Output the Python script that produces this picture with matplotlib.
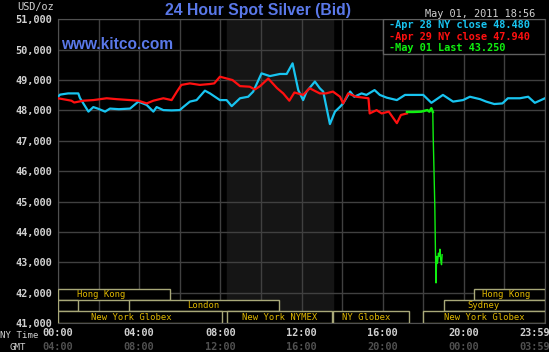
import matplotlib
matplotlib.use("Agg")
import matplotlib.pyplot as plt
from matplotlib.patches import Rectangle

# ---------------- data ----------------
apr28_hours = [0.0, 0.1, 0.5, 1.0, 1.08, 1.5, 1.74, 2.0, 2.32, 2.56, 3.0, 3.55, 3.96, 4.37, 4.7, 4.86,
               5.19, 5.6, 6.0, 6.17, 6.5, 6.83, 7.24, 7.49, 7.98, 8.31, 8.56, 8.97, 9.37, 9.62, 10.03,
               10.44, 10.94, 11.27, 11.56, 11.84, 12.08, 12.25, 12.66, 12.9, 13.07, 13.4, 13.65, 13.9,
               14.05, 14.4, 14.6, 14.96, 15.2, 15.6, 15.86, 16.2, 16.7, 17.1, 17.5, 18.0, 18.4, 18.97,
               19.47, 19.96, 20.3, 20.8, 21.1, 21.5, 21.9, 22.17, 22.76, 23.17, 23.5, 24.0]
apr28_values = [48450, 48520, 48560, 48560, 48410, 47960, 48110, 48050, 47960, 48060, 48040, 48060,
                48290, 48180, 47960, 48110, 48010, 48000, 48010, 48110, 48290, 48340, 48650, 48560,
                48340, 48340, 48140, 48400, 48450, 48620, 49220, 49130, 49200, 49200, 49550, 48670,
                48340, 48620, 48950, 48730, 48620, 47550, 47960, 48120, 48230, 48620, 48450, 48560,
                48510, 48670, 48510, 48420, 48340, 48510, 48510, 48510, 48250, 48510, 48290, 48340,
                48450, 48370, 48290, 48210, 48230, 48400, 48400, 48450, 48250, 48400]

apr29_hours = [0.0, 0.66, 0.8, 1.25, 1.74, 2.4, 2.9, 3.55, 3.96, 4.37, 4.7, 5.19, 5.6, 5.86, 6.08,
               6.5, 6.99, 7.49, 7.7, 7.98, 8.6, 8.97, 9.45, 9.7, 9.96, 10.36, 10.8, 11.1, 11.4, 11.65,
               12.08, 12.4, 12.9, 13.2, 13.55, 13.9, 14.05, 14.3, 14.7, 15.3, 15.36, 15.7, 15.95, 16.3,
               16.7, 16.9, 17.2]
apr29_values = [48400, 48320, 48260, 48320, 48340, 48400, 48370, 48340, 48320, 48230, 48320, 48400,
                48340, 48620, 48840, 48890, 48840, 48870, 48890, 49110, 49000, 48800, 48780, 48690,
                48800, 49050, 48730, 48560, 48320, 48590, 48510, 48730, 48560, 48560, 48620, 48450,
                48230, 48560, 48450, 48400, 47900, 48010, 47900, 47960, 47580, 47850, 47900]

may01_hours = [17.2, 17.5, 17.9, 18.2, 18.3, 18.4, 18.47, 18.49, 18.52, 18.57, 18.6, 18.62, 18.63,
               18.66, 18.7, 18.75, 18.8, 18.82, 18.86, 18.9, 18.93]
may01_values = [47950, 47950, 47960, 48010, 47960, 48070, 47950, 47140, 46310, 44830, 43400, 42750,
                42320, 43190, 42970, 43300, 43200, 43430, 43080, 42920, 43250]

ny_ticks = ["00:00", "04:00", "08:00", "12:00", "16:00", "20:00", "23:59"]
gmt_ticks = ["04:00", "08:00", "12:00", "16:00", "20:00", "00:00", "03:59"]
tick_hours = [0, 4, 8, 12, 16, 20, 24]
y_ticks = [41000, 42000, 43000, 44000, 45000, 46000, 47000, 48000, 49000, 50000, 51000]

# sessions
sessions_start = [0.0, 20.5, 0.0, 3.5, 19.0, 0.0, 8.33, 13.55, 18.0]
sessions_end = [5.5, 24.0, 1.0, 10.9, 24.0, 8.07, 13.5, 17.3, 24.0]
sessions_row = [2, 2, 1, 1, 1, 0, 0, 0, 0]
sessions_label = ["Hong Kong", "Hong Kong", "", "London", "Sydney", "New York Globex",
                  "New York NYMEX", "NY Globex", "New York Globex"]
sessions_label_x = [2.12, 22.07, 0.5, 7.14, 20.96, 3.6, 10.9, 15.17, 20.99]

legend_labels = ["Apr 28 NY close 48.480", "Apr 29 NY close 47.940", "May 01 Last 43.250"]

# ---------------- style ----------------
CYAN = "#18c4f0"
RED = "#ff1010"
GREEN = "#10f010"
BLUE = "#5a78e8"
GRID = "#404040"
TXT = "#d0d0d0"
GOLD = "#e0b800"
BOXE = "#a8a878"
MONO = "DejaVu Sans Mono"

W, H = 549, 352
fig = plt.figure(figsize=(W / 100, H / 100), dpi=100, facecolor="black")
x0, x1, ytop, ybot = 58, 545, 19.3, 323
ax = fig.add_axes([x0 / W, 1 - ybot / H, (x1 - x0) / W, (ybot - ytop) / H], facecolor="black")
ax.set_xlim(0, 24)
ax.set_ylim(41000, 51000)

ax.axvspan(8.33, 13.55, color="#151515", zorder=0)

ax.set_xticks(range(0, 25, 2))
ax.set_yticks(y_ticks)
ax.grid(True, color=GRID, linewidth=1.0, zorder=1)
ax.tick_params(length=0, labelbottom=False)
ax.set_yticklabels([f"{v:,}" for v in y_ticks], fontfamily=MONO, fontsize=7.4, color=TXT,
                   fontweight="bold")
ax.tick_params(axis="y", pad=4)
for s in ax.spines.values():
    s.set_color("#505050")

row_edges = [41000, 41390, 41760, 42130]
for st, en, rw, lab, lx in zip(sessions_start, sessions_end, sessions_row, sessions_label, sessions_label_x):
    r = Rectangle((st, row_edges[rw]), en - st, row_edges[rw + 1] - row_edges[rw],
                  facecolor="black", edgecolor=BOXE, linewidth=1.0, zorder=3)
    ax.add_patch(r)
    if lab:
        ax.text(lx, (row_edges[rw] + row_edges[rw + 1]) / 2, lab, ha="center", va="center",
                fontfamily=MONO, fontsize=6.4, color=GOLD, zorder=4)

ax.plot(apr28_hours, apr28_values, color=CYAN, linewidth=1.6, zorder=5)
ax.plot(apr29_hours, apr29_values, color=RED, linewidth=1.6, zorder=5)
ax.plot(may01_hours[:7], may01_values[:7], color=GREEN, linewidth=1.8, zorder=6)
ax.plot(may01_hours[6:], may01_values[6:], color=GREEN, linewidth=1.0, zorder=6)

lb = Rectangle(((383 - x0) / (x1 - x0), 1 - (54 - ytop) / (ybot - ytop)),
               (x1 - 383) / (x1 - x0), (54 - ytop) / (ybot - ytop),
               transform=ax.transAxes, facecolor="black", edgecolor="#606060",
               linewidth=1.0, zorder=7)
ax.add_patch(lb)
for i, (lab, c) in enumerate(zip(legend_labels, [CYAN, RED, GREEN])):
    fig.text(389 / W, 1 - (25.5 + i * 11.3) / H, "-" + lab, fontfamily=MONO, fontsize=7.4,
             fontweight="bold", color=c, va="center", ha="left", zorder=8)

fig.text(258 / W, 1 - 10 / H, "24 Hour Spot Silver (Bid)", fontfamily="Liberation Sans",
         fontweight="bold", fontsize=11.3, color=BLUE, ha="center", va="center")
fig.text(117 / W, 1 - 44.5 / H, "www.kitco.com", fontfamily="Liberation Sans",
         fontweight="bold", fontsize=11.2, color=BLUE, ha="center", va="center")
fig.text(54 / W, 1 - 7 / H, "USD/oz", fontfamily=MONO, fontsize=7.4, color=TXT,
         ha="right", va="center")
fig.text(535 / W, 1 - 14 / H, "May 01, 2011 18:56", fontfamily=MONO, fontsize=7.4, color=TXT,
         ha="right", va="center")

for h, ny, gm in zip(tick_hours, ny_ticks, gmt_ticks):
    xp = (x0 + h / 24 * (x1 - x0)) / W
    if h == 24:
        xp = 535 / W
    fig.text(xp, 1 - 333.5 / H, ny, fontfamily=MONO, fontsize=7.4, fontweight="bold",
             color=TXT, ha="center", va="center")
    fig.text(xp, 1 - 347.5 / H, gm, fontfamily=MONO, fontsize=7.4, fontweight="bold",
             color="#505050", ha="center", va="center")
fig.text(39 / W, 1 - 335.5 / H, "NY Time", fontfamily=MONO, fontsize=6.6, color=TXT,
         ha="right", va="center")
fig.text(18 / W, 1 - 347 / H, "GMT", fontfamily=MONO, fontsize=6.6, color=TXT,
         ha="center", va="center")

fig.savefig("out.png", dpi=100, facecolor="black")
